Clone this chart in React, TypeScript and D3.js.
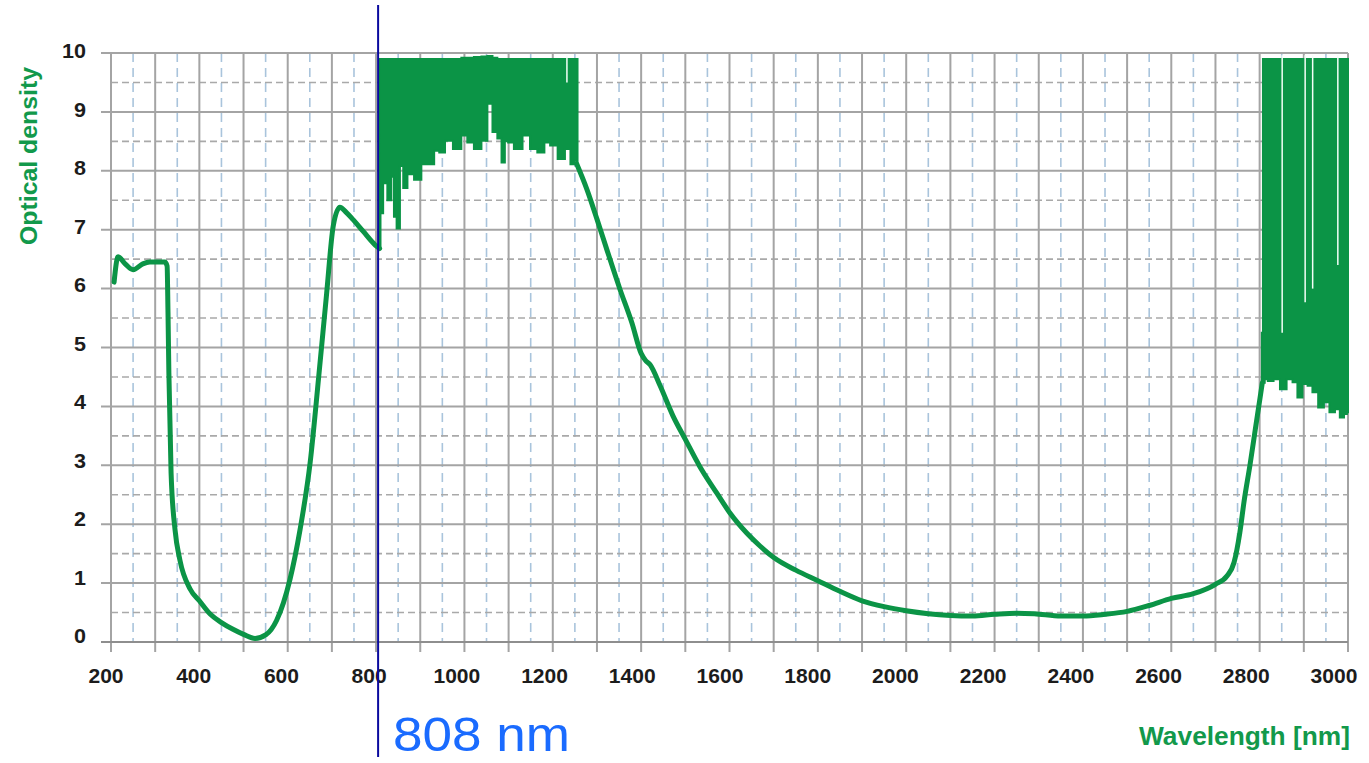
import React from "react";
import * as d3 from "d3";

// ---------- data ----------
const X_TICKS = [200, 400, 600, 800, 1000, 1200, 1400, 1600, 1800, 2000, 2200, 2400, 2600, 2800, 3000];
const Y_TICKS = [0, 1, 2, 3, 4, 5, 6, 7, 8, 9, 10];

// smooth segment 1 (UV / visible)
const segA_nm = [207, 216, 232, 250, 272, 288, 322, 327, 329, 331, 336, 345, 356, 379, 400, 425, 450, 475, 500, 526, 550, 575, 605, 628, 651, 670, 688, 703, 718, 733, 748, 771, 798, 808];
const segA_od = [6.11, 6.54, 6.42, 6.32, 6.42, 6.45, 6.45, 6.38, 5.6, 4.57, 2.87, 1.9, 1.39, 0.9, 0.7, 0.47, 0.33, 0.22, 0.13, 0.06, 0.12, 0.37, 1.06, 1.91, 3.06, 4.49, 5.91, 7.06, 7.38, 7.29, 7.17, 6.97, 6.74, 6.68];

// smooth segment 2 (NIR / IR)
const segB_nm = [1254, 1277, 1300, 1322, 1352, 1379, 1400, 1410, 1420, 1443, 1472, 1500, 1532, 1571, 1601, 1639, 1669, 1701, 1750, 1800, 1850, 1900, 1950, 2000, 2050, 2100, 2150, 2200, 2250, 2290, 2350, 2400, 2450, 2500, 2550, 2600, 2650, 2700, 2726, 2742, 2755, 2765, 2778, 2790, 2800, 2806];
const segB_od = [8.12, 7.69, 7.18, 6.67, 5.99, 5.42, 4.9, 4.78, 4.71, 4.35, 3.84, 3.44, 2.99, 2.53, 2.19, 1.85, 1.63, 1.43, 1.22, 1.04, 0.86, 0.7, 0.6, 0.53, 0.48, 0.45, 0.44, 0.47, 0.49, 0.48, 0.44, 0.44, 0.47, 0.52, 0.62, 0.74, 0.82, 0.98, 1.12, 1.35, 1.85, 2.4, 3.0, 3.6, 4.1, 4.4];

// noisy band 1 (808 – 1256 nm)
const band1_nm = [808, 812, 820, 831, 838, 843, 850, 858, 865, 877, 895, 910, 926, 937, 949, 963, 985, 1001, 1012, 1031, 1046, 1058, 1069, 1080, 1088, 1095, 1103, 1121, 1142, 1155, 1175, 1187, 1201, 1221, 1234, 1246, 1251, 1256];
const band1_low = [6.72, 7.28, 7.79, 7.5, 7.9, 7.22, 7.02, 8.08, 7.71, 7.94, 7.85, 8.11, 8.11, 8.34, 8.31, 8.51, 8.37, 8.6, 8.48, 8.37, 8.51, 9.14, 8.66, 8.55, 8.14, 8.5, 8.48, 8.37, 8.6, 8.37, 8.31, 8.48, 8.43, 8.2, 8.37, 8.11, 8.18, 8.1];
const band1_high = [9.9, 9.9, 9.9, 9.9, 9.9, 9.9, 9.9, 9.9, 9.9, 9.9, 9.9, 9.9, 9.9, 9.9, 9.9, 9.9, 9.9, 9.92, 9.92, 9.93, 9.94, 9.95, 9.92, 9.9, 9.9, 9.9, 9.9, 9.9, 9.9, 9.9, 9.9, 9.9, 9.9, 9.9, 9.9, 9.9, 9.9, 9.9];

// noisy band 2 (2805 – 3000 nm)
const band2_nm = [2805, 2810, 2813, 2824, 2839, 2853, 2869, 2880, 2891, 2903, 2914, 2925, 2940, 2951, 2965, 2976, 2987, 2995, 3000];
const band2_low = [4.35, 4.4, 4.46, 4.43, 4.46, 4.29, 4.46, 4.41, 4.15, 4.38, 4.35, 4.24, 3.98, 4.07, 3.9, 3.95, 3.81, 3.87, 3.9];
const band2_high = [5.25, 9.9, 9.9, 9.9, 9.9, 9.9, 9.9, 9.9, 9.9, 9.9, 9.9, 9.9, 9.9, 9.9, 9.9, 9.9, 9.9, 9.9, 9.9];

// white gaps inside the noisy bands
const gap_nm = [1232, 2851, 2903, 2920, 2977];
const gap_bottom = [9.5, 5.25, 5.77, 6.0, 6.4];

const MARK_NM = 808;
const MARK_LABEL = "808 nm";
const Y_TITLE = "Optical density";
const X_TITLE = "Wavelength [nm]";

// ---------- layout ----------
const W = 1369;
const H = 763;
const GREEN = "#0b9446";
const TITLE_GREEN = "#12994b";
const GRID = "#a4a4a4";
const BLUE_GRID = "#a9c4dc";

export default function App() {
  const x = d3.scaleLinear().domain([200, 3000]).range([111, 1348]);
  const y = d3.scaleLinear().domain([0, 10]).range([642, 53]);
  // label placement scales (labels sit slightly off their ticks in the original)
  const xLab = d3.scaleLinear().domain([200, 3000]).range([106, 1334]);
  const yLab = d3.scaleLinear().domain([0, 10]).range([643, 58]);

  const solidX = d3.range(200, 3001, 100);
  const dashedX = d3.range(250, 3000, 100);
  const halfY = d3.range(0.5, 10, 1);

  const line = d3
    .line<[number, number]>()
    .x((d) => x(d[0]))
    .y((d) => y(d[1]))
    .curve(d3.curveMonotoneX);

  const area = d3
    .area<[number, number, number]>()
    .x((d) => x(d[0]))
    .y0((d) => y(d[1]))
    .y1((d) => y(d[2]))
    .curve(d3.curveStep);

  const segA = segA_nm.map((n, i) => [n, segA_od[i]] as [number, number]);
  const segB = segB_nm.map((n, i) => [n, segB_od[i]] as [number, number]);
  const b1 = band1_nm.map((n, i) => [n, band1_low[i], band1_high[i]] as [number, number, number]);
  const b2 = band2_nm.map((n, i) => [n, band2_low[i], band2_high[i]] as [number, number, number]);

  const labelFont = "'Liberation Sans', Arial, sans-serif";

  return (
    <svg
      width={W}
      height={H}
      style={{ position: "absolute", left: 0, top: 0, background: "#fff" }}
    >
      <rect x={0} y={0} width={W} height={H} fill="#fff" />
      {/* blue dashed verticals */}
      {dashedX.map((v) => (
        <line key={"bd" + v} x1={x(v)} x2={x(v)} y1={y(10)} y2={y(0)} stroke={BLUE_GRID} strokeWidth={1.6} strokeDasharray="9 6" />
      ))}
      {/* dashed horizontal half lines */}
      {halfY.map((v) => (
        <line key={"hd" + v} x1={x(200)} x2={x(3000)} y1={y(v)} y2={y(v)} stroke="#a9a9a9" strokeWidth={1.6} strokeDasharray="7 4" />
      ))}
      {/* solid verticals */}
      {solidX.map((v) => (
        <line key={"sv" + v} x1={x(v)} x2={x(v)} y1={y(10)} y2={y(0) + 10} stroke={GRID} strokeWidth={2} />
      ))}
      {/* solid horizontals */}
      {Y_TICKS.map((v) => (
        <line key={"sh" + v} x1={x(200) - 10} x2={x(3000)} y1={y(v)} y2={y(v)} stroke={v === 0 ? "#8e8e8e" : GRID} strokeWidth={2} />
      ))}

      {/* curves */}
      <path d={line(segA) || ""} fill="none" stroke={GREEN} strokeWidth={5} strokeLinejoin="round" strokeLinecap="round" />
      <path d={line(segB) || ""} fill="none" stroke={GREEN} strokeWidth={5} strokeLinejoin="round" strokeLinecap="round" />
      <path d={area(b1) || ""} fill={GREEN} stroke={GREEN} strokeWidth={2} />
      <path d={area(b2) || ""} fill={GREEN} stroke={GREEN} strokeWidth={2} />
      {gap_nm.map((n, i) => (
        <line key={"g" + n} x1={x(n)} x2={x(n)} y1={y(9.96)} y2={y(gap_bottom[i])} stroke="#f4fff8" strokeWidth={1.5} />
      ))}

      {/* tick labels */}
      {X_TICKS.map((v) => {
        const s = String(v);
        return (
          <text key={"xl" + v} x={xLab(v)} y={683} textAnchor="middle" fontFamily={labelFont} fontWeight="bold" fontSize={21} fill="#1c1c1c" textLength={s.length * 11.7} lengthAdjust="spacingAndGlyphs">
            {s}
          </text>
        );
      })}
      {Y_TICKS.map((v) => {
        const s = String(v);
        return (
          <text key={"yl" + v} x={86} y={yLab(v)} textAnchor="end" fontFamily={labelFont} fontWeight="bold" fontSize={21} fill="#1c1c1c" textLength={s.length * 12} lengthAdjust="spacingAndGlyphs">
            {s}
          </text>
        );
      })}

      {/* axis titles */}
      <text transform="translate(37,156) rotate(-90)" textAnchor="middle" fontFamily={labelFont} fontWeight="bold" fontSize={24} fill={TITLE_GREEN} textLength={178} lengthAdjust="spacingAndGlyphs">
        {Y_TITLE}
      </text>
      <text x={1139} y={745} fontFamily={labelFont} fontWeight="bold" fontSize={25} fill={TITLE_GREEN} textLength={211} lengthAdjust="spacingAndGlyphs">
        {X_TITLE}
      </text>

      {/* 808 nm marker */}
      <line x1={x(MARK_NM) - 1.5} x2={x(MARK_NM) - 1.5} y1={5} y2={757} stroke="#0a0a9e" strokeWidth={2} />
      <text x={393} y={751} fontFamily="'Liberation Sans', Arial, sans-serif" fontSize={48} fill="#1a6bff" textLength={177} lengthAdjust="spacingAndGlyphs">
        {MARK_LABEL}
      </text>
    </svg>
  );
}
